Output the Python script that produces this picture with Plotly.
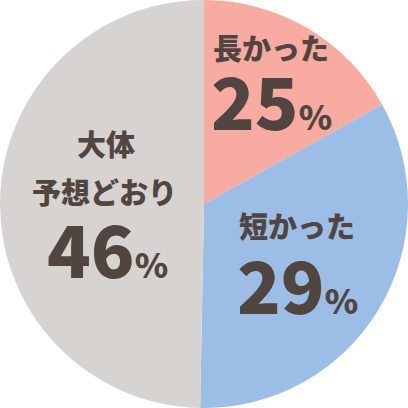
import plotly.graph_objects as go

categories = ["長かった", "短かった", "大体予想どおり"]
slice_share = [16.9, 33.4, 49.7]      # angular share as drawn
label_pct = [25, 29, 46]              # percentages printed on the chart
colors = ["#f8aca1", "#9bbde6", "#d7d3d0"]

TXT = "#50463f"
FONT = "Noto Sans CJK JP"

fig = go.Figure(go.Pie(
    labels=categories, values=slice_share, sort=False, direction="clockwise",
    rotation=0, marker=dict(colors=colors, line=dict(width=0)),
    textinfo="none", hoverinfo="none", showlegend=False,
    domain=dict(x=[0, 1], y=[0, 1]),
))

def py(v):
    return 1 - v / 408.0

def px(v):
    return v / 408.0

def pct(n):
    return f"{n}<span style='font-size:34px'>%</span>"

anns = [
    dict(text=categories[0], x=px(211), y=py(47), xanchor="left", size=29),
    dict(text=pct(label_pct[0]), x=px(209), y=py(98), xanchor="left", size=72),
    dict(text=categories[1], x=px(237), y=py(225), xanchor="left", size=29),
    dict(text=pct(label_pct[1]), x=px(235), y=py(282), xanchor="left", size=72),
    dict(text="大体", x=px(106), y=py(143), xanchor="center", size=29),
    dict(text="予想どおり", x=px(105), y=py(191), xanchor="center", size=29),
    dict(text=pct(label_pct[2]), x=px(107), y=py(246), xanchor="center", size=72),
]

fig.update_layout(
    width=408, height=408, margin=dict(l=0, r=0, t=0, b=0),
    paper_bgcolor="white", plot_bgcolor="white",
    annotations=[dict(text=a["text"], x=a["x"], y=a["y"], xref="paper", yref="paper",
                      xanchor=a["xanchor"], yanchor="middle", showarrow=False,
                      font=dict(family=FONT, size=a["size"], color=TXT, weight=900))
                 for a in anns],
)

fig.write_html("out.html", config={"displayModeBar": False},
               post_script="document.body.style.margin='0';document.body.style.overflow='hidden';")
